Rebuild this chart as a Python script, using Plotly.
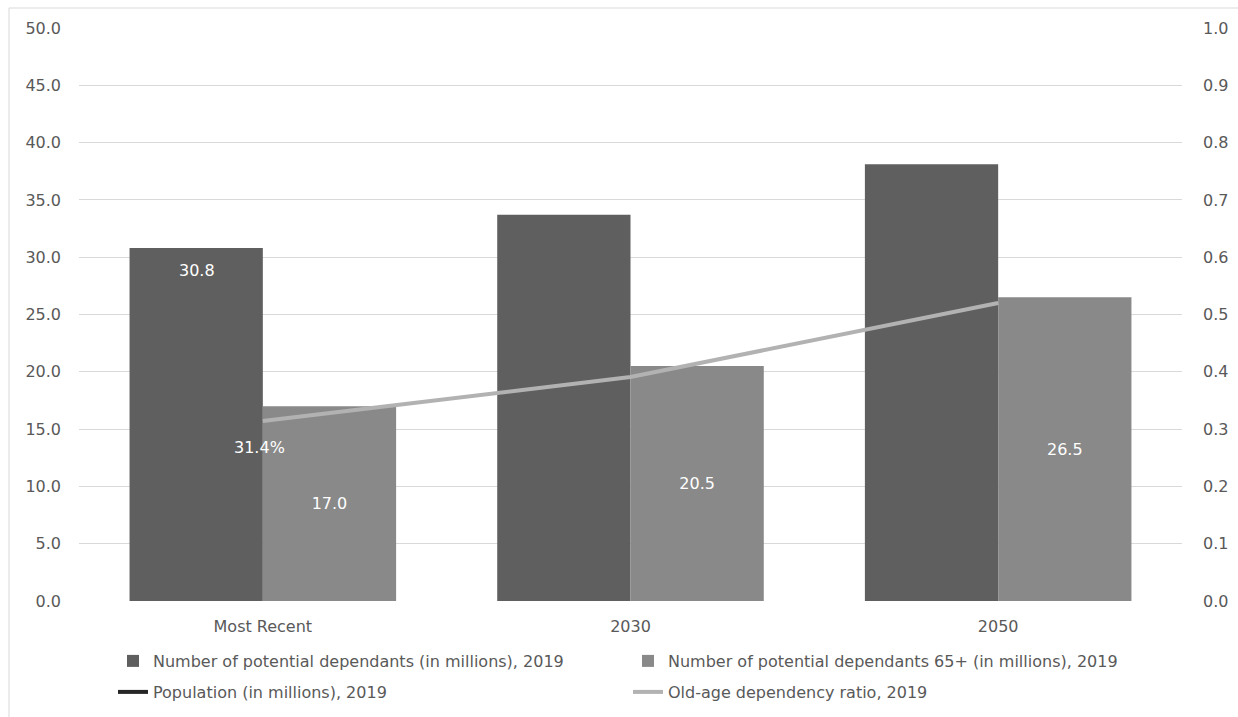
import plotly.graph_objects as go

categories = ["Most Recent", "2030", "2050"]
dependants = [30.8, 33.7, 38.1]
dependants_65 = [17.0, 20.5, 26.5]
population = [None, None, None]
old_age_ratio = [0.314, 0.391, 0.520]

left_ticks = [0, 5, 10, 15, 20, 25, 30, 35, 40, 45, 50]
right_ticks = [0, 0.1, 0.2, 0.3, 0.4, 0.5, 0.6, 0.7, 0.8, 0.9, 1.0]

FONT = "DejaVu Sans"
FS = 16
TXT = "#595959"
W, H = 1238, 717
L, R, T, B = 79, 56, 28, 116
pw, ph = W - L - R, H - T - B

fig = go.Figure()
fig.add_trace(go.Bar(x=categories, y=dependants, name="Number of potential dependants (in millions), 2019",
                     marker=dict(color="#5f5f5f", line=dict(width=0)), legend="legend"))
fig.add_trace(go.Bar(x=categories, y=dependants_65, name="Number of potential dependants 65+ (in millions), 2019",
                     marker=dict(color="#898989", line=dict(width=0)), legend="legend",
                     text=[f"{v:.1f}" for v in dependants_65], textposition="inside",
                     insidetextanchor="middle", textangle=0,
                     textfont=dict(color="white", family=FONT, size=FS)))
fig.add_trace(go.Scatter(x=categories, y=population, name="Population (in millions), 2019",
                         mode="lines", line=dict(color="#262626", width=4), legend="legend2"))
fig.add_trace(go.Scatter(x=categories, y=old_age_ratio, name="Old-age dependency ratio, 2019",
                         mode="lines", line=dict(color="#b2b2b2", width=4), yaxis="y2", legend="legend2"))

annotations = []
for c, v in zip(categories, dependants):
    annotations.append(dict(x=c, y=v, xref="x", yref="y", text=f"{v:.1f}", showarrow=False,
                            xshift=-66, yshift=-22, font=dict(color="white", family=FONT, size=FS)))
for c, v in zip(categories, old_age_ratio):
    annotations.append(dict(x=c, y=v, xref="x", yref="y2", text=f"{v*100:.1f}%", showarrow=False,
                            yshift=-26, xshift=-3, font=dict(color="white", family=FONT, size=FS)))

leg_common = dict(orientation="h", xanchor="left", yanchor="middle", entrywidth=470,
                  font=dict(size=FS, color=TXT, family=FONT), bgcolor="rgba(0,0,0,0)",
                  traceorder="normal")

fig.update_layout(
    width=W, height=H,
    margin=dict(l=L, r=R, t=T, b=B, autoexpand=False),
    paper_bgcolor="white", plot_bgcolor="white",
    font=dict(family=FONT, size=FS, color=TXT),
    barmode="group", bargap=0.275, bargroupgap=0,
    xaxis=dict(type="category", range=[-0.5, 2.5], showgrid=False, showline=False,
               zeroline=False, ticks="", ticklabelstandoff=14, tickfont=dict(size=FS, color=TXT)),
    yaxis=dict(range=[0, 50], tickvals=left_ticks, ticktext=[f"{v:.1f}" for v in left_ticks],
               showgrid=True, gridcolor="#d9d9d9", gridwidth=1, zeroline=False,
               showline=False, ticks="", ticklabelstandoff=17, tickfont=dict(size=FS, color=TXT)),
    yaxis2=dict(range=[0, 1.0], tickvals=right_ticks, ticktext=[f"{v:.1f}" for v in right_ticks],
                overlaying="y", side="right", showgrid=False, zeroline=False, showline=False,
                ticks="", ticklabelstandoff=20, tickfont=dict(size=FS, color=TXT)),
    legend=dict(leg_common, x=(113 - L) / pw, y=-(661 - (T + ph)) / ph),
    legend2=dict(leg_common, x=(113 - L) / pw, y=-(692 - (T + ph)) / ph),
    annotations=annotations,
    shapes=[dict(type="rect", xref="paper", yref="paper",
                 x0=(9 - L) / pw, x1=(W + 5 - L) / pw,
                 y0=-(H + 5 - T - ph) / ph, y1=1 + (T - 8) / ph,
                 line=dict(color="#d9d9d9", width=1), fillcolor="rgba(0,0,0,0)", layer="below")],
    showlegend=True,
)

fig.write_html("out.html")
